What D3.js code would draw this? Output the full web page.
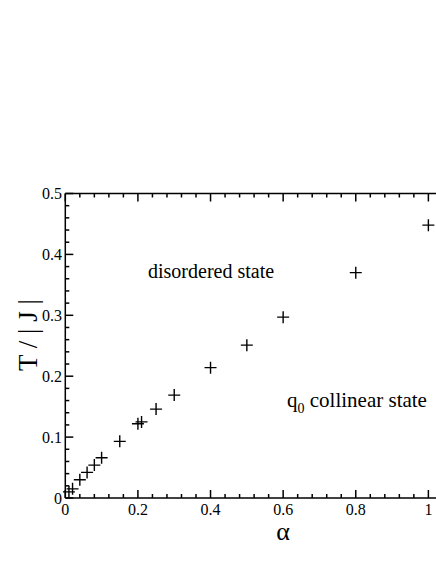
<!DOCTYPE html>
<html><head><meta charset="utf-8">
<script src="https://cdn.jsdelivr.net/npm/d3@7/dist/d3.min.js"></script>
</head>
<body style="margin:0;background:#fff">
<svg id="chart" width="436" height="564"></svg>
<script>
const alphaValues = [0.01, 0.02, 0.04, 0.06, 0.08, 0.10, 0.15, 0.20, 0.21, 0.25, 0.30, 0.40, 0.50, 0.60, 0.80, 1.00];
const tValues     = [0.010, 0.015, 0.030, 0.042, 0.054, 0.066, 0.093, 0.122, 0.125, 0.146, 0.169, 0.214, 0.251, 0.297, 0.370, 0.448];
const xTicks = [0, 0.2, 0.4, 0.6, 0.8, 1];
const xTickLabels = ["0", "0.2", "0.4", "0.6", "0.8", "1"];
const yTicks = [0, 0.1, 0.2, 0.3, 0.4, 0.5];
const yTickLabels = ["0", "0.1", "0.2", "0.3", "0.4", "0.5"];

const FONT = '"Liberation Serif"';
const svg = d3.select("#chart");
const x = d3.scaleLinear().domain([0, 1.2]).range([65.3, 501]);
const y = d3.scaleLinear().domain([0, 0.5]).range([498, 193.5]);

const xMinor = d3.range(0, 1.2001, 0.04);
const yMinor = d3.range(0, 0.5001, 0.02);

function txt(size) { return svg.append("text").style("font-family", FONT).attr("font-size", size); }

// frame
svg.append("line").attr("x1", x(0)).attr("x2", x(1.2)).attr("y1", y(0)).attr("y2", y(0)).attr("stroke","#000").attr("stroke-width",1.5);
svg.append("line").attr("x1", x(0)).attr("x2", x(1.2)).attr("y1", y(0.5)).attr("y2", y(0.5)).attr("stroke","#000").attr("stroke-width",1.5);
svg.append("line").attr("x1", x(0)).attr("x2", x(0)).attr("y1", y(0)).attr("y2", y(0.5)).attr("stroke","#000").attr("stroke-width",1.5);

const isMajorX = v => xTicks.some(t => Math.abs(t - v) < 1e-6);
xMinor.forEach(v => {
  const L = isMajorX(v) ? 8 : 4;
  svg.append("line").attr("x1", x(v)).attr("x2", x(v)).attr("y1", y(0)).attr("y2", y(0) - L).attr("stroke","#000").attr("stroke-width",1.5);
  svg.append("line").attr("x1", x(v)).attr("x2", x(v)).attr("y1", y(0.5)).attr("y2", y(0.5) + L).attr("stroke","#000").attr("stroke-width",1.5);
});
const isMajorY = v => yTicks.some(t => Math.abs(t - v) < 1e-6);
yMinor.forEach(v => {
  const L = isMajorY(v) ? 8 : 4;
  svg.append("line").attr("x1", x(0)).attr("x2", x(0) + L).attr("y1", y(v)).attr("y2", y(v)).attr("stroke","#000").attr("stroke-width",1.5);
});

// tick labels
xTicks.forEach((v, i) => {
  txt(16).attr("x", x(v)).attr("y", 515).attr("text-anchor","middle").text(xTickLabels[i]);
});
yTicks.forEach((v, i) => {
  txt(16).attr("x", 62).attr("y", y(v) + 5.5).attr("text-anchor","end").text(yTickLabels[i]);
});

// axis titles
txt(26).attr("x", 283).attr("y", 540).attr("text-anchor","middle").text("α");
txt(27).attr("transform", "translate(37,335) rotate(-90)").attr("text-anchor","middle").text("T / | J |");

// annotations
txt(20).attr("x", 148).attr("y", 278).text("disordered state");
const q = txt(21).attr("x", 287).attr("y", 407);
q.append("tspan").text("q");
q.append("tspan").attr("dy", 6).attr("font-size", 14).text("0");
q.append("tspan").attr("dy", -6).text(" collinear state");

// data crosses
const pts = alphaValues.map((a, i) => [a, tValues[i]]);
const s = 6;
svg.selectAll("path.pt").data(pts).enter().append("path")
  .attr("d", d => `M${x(d[0]) - s},${y(d[1])}H${x(d[0]) + s}M${x(d[0])},${y(d[1]) - s}V${y(d[1]) + s}`)
  .attr("stroke", "#000").attr("stroke-width", 1.4).attr("fill","none");
</script>
</body></html>
